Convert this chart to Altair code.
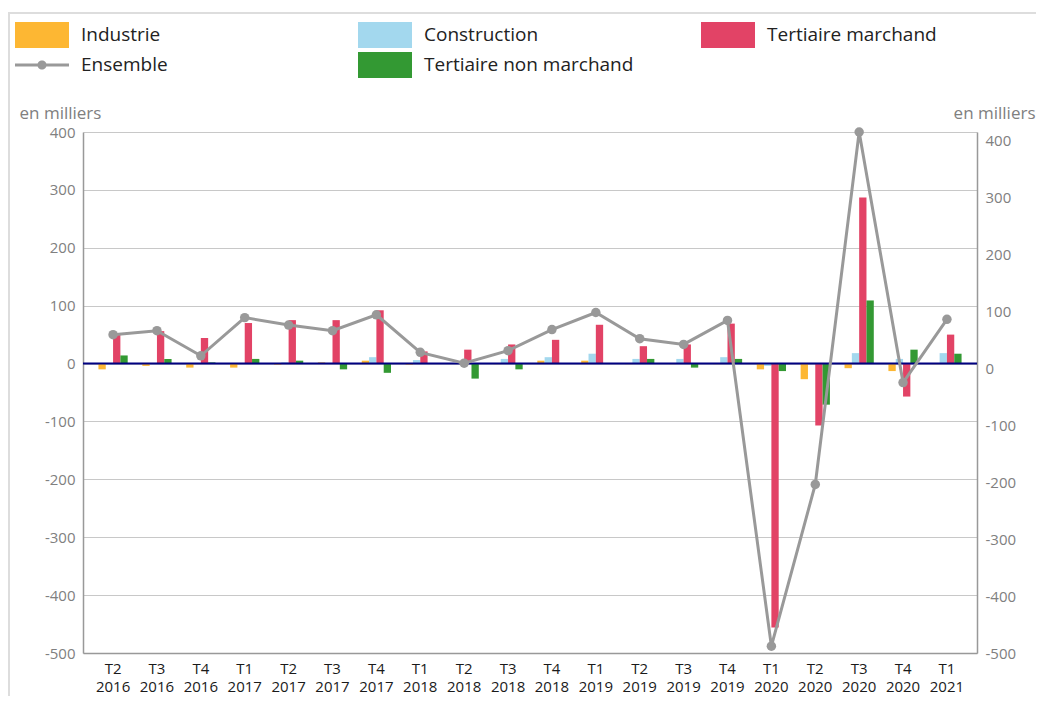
import altair as alt
import pandas as pd

quarters = ["T2 2016", "T3 2016", "T4 2016", "T1 2017", "T2 2017", "T3 2017", "T4 2017",
            "T1 2018", "T2 2018", "T3 2018", "T4 2018", "T1 2019", "T2 2019", "T3 2019",
            "T4 2019", "T1 2020", "T2 2020", "T3 2020", "T4 2020", "T1 2021"]

industrie = [-10, -4, -7, -7, -2, 2, 5, -2, 1, -1, 5, 5, -1, -1, -1, -10, -27, -8, -13, -1]
construction = [-2, -1, 1, -1, 2, -1, 11, 6, 0.5, 8, 11, 17, 8, 8, 11, -4, 1, 18, 8, 18]
tertiaire_marchand = [50, 56, 44, 70, 75, 75, 92, 21, 24, 33, 41, 67, 30, 33, 69, -456, -107, 287, -57, 50]
tertiaire_non_marchand = [14, 8, 2, 8, 5, -10, -16, 1, -26, -10, 1, 1, 8, -7, 8, -13, -71, 109, 24, 17]
ensemble = [59, 66, 22, 89, 76, 66, 94, 28, 9, 31, 68, 98, 52, 42, 84, -488, -204, 415, -25, 86]

bar_series = ["Industrie", "Construction", "Tertiaire marchand", "Tertiaire non marchand"]
# legend entries are filled column by column (2 rows x 3 columns)
legend_order = ["Industrie", "Ensemble", "Construction", "Tertiaire non marchand", "Tertiaire marchand"]
legend_colors = ["#FDB733", "#999999", "#A3D8EE", "#339933", "#E24366"]

left_ticks = [-500, -400, -300, -200, -100, 0, 100, 200, 300, 400]
right_ticks = [-500, -400, -300, -200, -100, 0, 100, 200, 300, 400]

rows = []
for name, vals in zip(bar_series, [industrie, construction, tertiaire_marchand, tertiaire_non_marchand]):
    for q, v in zip(quarters, vals):
        rows.append({"trimestre": q, "serie": name, "valeur": v})
bars_df = pd.DataFrame(rows)
ens_df = pd.DataFrame({"trimestre": quarters, "ensemble": ensemble})
zero_df = pd.DataFrame({"valeur": [0]})
deco_df = pd.DataFrame({"k": [0]})

RECT = "M-1,-0.48H1V0.48H-1Z"
ENS = "M-1,-0.055H1V0.055H-1Z M0.17,0A0.17,0.17 0 1,1 -0.17,0A0.17,0.17 0 1,1 0.17,0Z"
legend_shapes = [RECT, ENS, RECT, RECT, RECT]

GREY_TXT = "#808080"

x_enc = alt.X(
    "trimestre:N", sort=quarters,
    scale=alt.Scale(paddingInner=0, paddingOuter=0.185),
    axis=alt.Axis(title=None, labelAngle=0, labelExpr="split(datum.label, ' ')",
                  labelFontSize=15, labelColor="#1a1a1a", labelLineHeight=18,
                  labelPadding=8, ticks=False, domainColor="#999999", domainWidth=1.5,
                  labelOverlap=False),
)

y_left = alt.Y(
    "valeur:Q",
    scale=alt.Scale(domain=[-500, 400], nice=False),
    axis=alt.Axis(title="en milliers", titleAngle=0, titleAlign="left", titleBaseline="middle",
                  titleX=-64, titleY=-19, titleFontSize=17, titleFontWeight="normal",
                  titleColor=GREY_TXT, values=left_ticks, grid=True, gridColor="#c8c8c8",
                  gridWidth=1, domainColor="#999999", domainWidth=1.5, ticks=False,
                  labelFontSize=15, labelColor=GREY_TXT, labelPadding=8,
                  labelExpr="toString(datum.value)"),
)

y_right = alt.Y(
    "ensemble:Q",
    scale=alt.Scale(domain=[-500, 415], nice=False),
    axis=alt.Axis(orient="right", title="en milliers", titleAngle=0, titleAlign="right",
                  titleBaseline="middle", titleX=58, titleY=-19, titleFontSize=17,
                  titleFontWeight="normal", titleColor=GREY_TXT, values=right_ticks,
                  grid=False, domainColor="#999999", domainWidth=1.5, ticks=False,
                  labelFontSize=15, labelColor=GREY_TXT, labelPadding=8,
                  labelExpr="toString(datum.value)"),
)

leg = alt.Legend(title=None, orient="none", legendX=-68, legendY=-110, columns=3,
                 columnPadding=67, rowPadding=4, gridAlign="all", symbolSize=2916,
                 clipHeight=26, symbolStrokeWidth=0, symbolOpacity=1, labelFontSize=19,
                 labelColor="#222222", labelOffset=12, padding=0, labelLimit=400)

color_enc = alt.Color("serie:N", scale=alt.Scale(domain=legend_order, range=legend_colors), legend=leg)
shape_enc = alt.Shape("serie:N", scale=alt.Scale(domain=legend_order, range=legend_shapes), legend=leg)

frame_left = alt.Chart(deco_df).mark_rule(color="#dddddd", strokeWidth=2).encode(
    x=alt.value(-74), y=alt.value(-119), y2=alt.value(572))
frame_top = alt.Chart(deco_df).mark_rule(color="#dddddd", strokeWidth=2).encode(
    x=alt.value(-75), x2=alt.value(953), y=alt.value(-119))

bars = alt.Chart(bars_df).mark_bar().encode(
    x=x_enc,
    xOffset=alt.XOffset("serie:N", sort=bar_series, scale=alt.Scale(paddingInner=0, paddingOuter=1)),
    y=y_left,
    color=color_enc,
)

zero = alt.Chart(zero_df).mark_rule(color="#000080", strokeWidth=2).encode(y=alt.Y("valeur:Q"))

legend_pts = alt.Chart(bars_df).mark_point(filled=True, opacity=1).encode(
    x=x_enc, y=y_left, color=color_enc, shape=shape_enc
).transform_filter("false")

line = alt.Chart(ens_df).mark_line(color="#999999", strokeWidth=3).encode(x=x_enc, y=y_right)
pts = alt.Chart(ens_df).mark_circle(color="#999999", size=90, opacity=1).encode(x=x_enc, y=y_right)

left = alt.layer(frame_left, frame_top, bars, zero, legend_pts)
right = alt.layer(line, pts)

chart = alt.layer(left, right).resolve_scale(y="independent").properties(
    width=894, height=521,
    padding={"left": 75, "top": 124, "right": 59, "bottom": 43},
    autosize=alt.AutoSizeParams(type="none"),
).configure(font="Open Sans").configure_view(strokeWidth=0)

chart.save("out.html", embed_options={"renderer": "svg", "actions": False})
